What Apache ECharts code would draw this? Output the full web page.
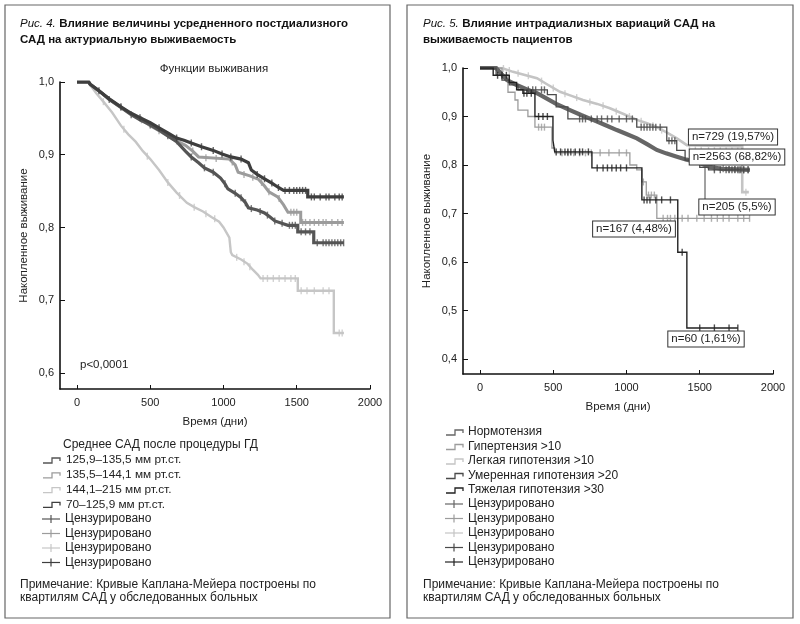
<!DOCTYPE html>
<html><head><meta charset="utf-8">
<script src="https://cdn.jsdelivr.net/npm/echarts@6/dist/echarts.min.js"></script>
<style>html,body{margin:0;padding:0;background:#fff}#c{width:800px;height:624px}</style>
</head><body><div id="c"></div>
<script>
// ---------- DATA: left panel (Рис. 4) ----------
var leftNames = ['125,9–135,5 мм рт.ст.', '135,5–144,1 мм рт.ст.', '144,1–215 мм рт.ст.', '70–125,9 мм рт.ст.'];
// survival curves as [time, survival] vertices (vertical drops listed as two vertices at the same time)
var L125 = [[0,1],[80,1],[90,0.997],[150,0.988],[220,0.976],[300,0.965],[370,0.955],[430,0.948],[500,0.941],[560,0.934],[620,0.926],[680,0.918],[740,0.905],[780,0.897],[830,0.889],[870,0.882],[930,0.876],[980,0.868],[1010,0.860],[1030,0.853],[1080,0.847],[1120,0.841],[1150,0.834],[1170,0.827],[1230,0.824],[1280,0.820],[1320,0.814],[1350,0.809],[1440,0.803],[1507,0.803],[1507,0.794],[1616,0.794],[1616,0.779],[1822,0.779]];
var L135 = [[0,1],[80,1],[90,0.996],[160,0.986],[230,0.975],[300,0.965],[380,0.955],[440,0.948],[500,0.940],[560,0.933],[620,0.926],[680,0.919],[740,0.913],[790,0.905],[830,0.897],[1040,0.894],[1080,0.886],[1100,0.876],[1180,0.871],[1240,0.866],[1280,0.857],[1310,0.849],[1370,0.842],[1410,0.831],[1440,0.821],[1527,0.821],[1527,0.807],[1822,0.807]];
var L144 = [[0,1],[80,1],[90,0.996],[130,0.985],[180,0.973],[240,0.958],[300,0.940],[350,0.928],[400,0.918],[450,0.905],[500,0.894],[560,0.879],[620,0.862],[680,0.848],[750,0.834],[800,0.828],[860,0.822],[920,0.814],[970,0.808],[1000,0.800],[1040,0.786],[1050,0.766],[1060,0.762],[1120,0.756],[1165,0.750],[1200,0.742],[1235,0.735],[1253,0.730],[1507,0.730],[1507,0.713],[1753,0.713],[1753,0.655],[1822,0.655]];
var L70 = [[0,1],[80,1],[90,0.997],[150,0.988],[220,0.977],[300,0.966],[370,0.957],[430,0.951],[500,0.944],[560,0.937],[620,0.930],[680,0.923],[730,0.920],[780,0.916],[850,0.911],[930,0.906],[990,0.901],[1050,0.897],[1120,0.894],[1170,0.889],[1190,0.879],[1230,0.873],[1280,0.867],[1330,0.861],[1375,0.855],[1410,0.851],[1575,0.851],[1575,0.842],[1822,0.842]];
// censored observations
var C125 = [[220,0.976],[370,0.955],[500,0.941],[620,0.926],[780,0.897],[870,0.882],[930,0.876],[1010,0.860],[1080,0.847],[1120,0.841],[1150,0.834],[1190,0.826],[1250,0.822],[1300,0.817],[1350,0.809],[1400,0.806],[1450,0.803],[1470,0.803],[1490,0.803],[1530,0.794],[1560,0.794],[1590,0.794],[1640,0.779],[1680,0.779],[1700,0.779],[1720,0.779],[1740,0.779],[1760,0.779],[1780,0.779],[1800,0.779],[1820,0.779]];
var C135 = [[300,0.965],[440,0.948],[560,0.933],[680,0.919],[790,0.905],[880,0.896],[950,0.895],[1060,0.890],[1140,0.873],[1200,0.869],[1260,0.862],[1310,0.849],[1380,0.840],[1460,0.821],[1480,0.821],[1500,0.821],[1540,0.807],[1560,0.807],[1590,0.807],[1620,0.807],[1650,0.807],[1680,0.807],[1700,0.807],[1740,0.807],[1780,0.807],[1810,0.807]];
var C144 = [[180,0.973],[320,0.935],[480,0.898],[620,0.862],[700,0.844],[800,0.828],[880,0.819],[940,0.812],[1090,0.759],[1140,0.753],[1180,0.746],[1270,0.730],[1300,0.730],[1340,0.730],[1380,0.730],[1420,0.730],[1460,0.730],[1490,0.730],[1530,0.713],[1570,0.713],[1620,0.713],[1680,0.713],[1720,0.713],[1790,0.655],[1810,0.655]];
var C70 = [[150,0.988],[300,0.966],[430,0.951],[560,0.937],[680,0.923],[780,0.916],[850,0.911],[930,0.906],[990,0.901],[1050,0.897],[1120,0.894],[1230,0.873],[1280,0.867],[1330,0.861],[1375,0.855],[1420,0.851],[1450,0.851],[1480,0.851],[1500,0.851],[1520,0.851],[1540,0.851],[1560,0.851],[1600,0.842],[1620,0.842],[1660,0.842],[1700,0.842],[1720,0.842],[1760,0.842],[1790,0.842],[1810,0.842]];

// ---------- DATA: right panel (Рис. 5) ----------
var rightNames = ['Нормотензия', 'Гипертензия >10', 'Легкая гипотензия >10', 'Умеренная гипотензия >20', 'Тяжелая гипотензия >30'];
var RNorm = [[0,1],[110,1],[140,0.990],[184,0.975],[250,0.965],[320,0.956],[389,0.948],[450,0.938],[520,0.926],[614,0.913],[690,0.903],[771,0.893],[850,0.883],[934,0.872],[1000,0.864],[1071,0.855],[1140,0.843],[1207,0.831],[1270,0.824],[1344,0.817],[1410,0.811],[1480,0.806],[1569,0.796],[1650,0.792],[1842,0.790]];
var RLight = [[0,1],[150,1],[225,0.992],[300,0.986],[389,0.979],[460,0.966],[546,0.951],[620,0.943],[703,0.934],[800,0.926],[887,0.917],[980,0.905],[1071,0.893],[1140,0.886],[1207,0.878],[1280,0.866],[1344,0.855],[1412,0.841],[1790,0.838],[1790,0.744],[1835,0.744]];
var RHyper = [[0,1],[150,1],[150,0.985],[191,0.985],[191,0.950],[239,0.950],[239,0.934],[259,0.934],[259,0.913],[327,0.913],[327,0.900],[375,0.900],[375,0.878],[491,0.878],[491,0.835],[510,0.835],[510,0.825],[1023,0.825],[1023,0.800],[1070,0.800],[1070,0.790],[1105,0.790],[1105,0.765],[1135,0.765],[1135,0.738],[1207,0.738],[1207,0.690],[1842,0.690]];
var RMod = [[0,1],[110,1],[110,0.985],[150,0.985],[150,0.975],[200,0.975],[200,0.965],[260,0.965],[260,0.955],[460,0.955],[460,0.945],[520,0.945],[520,0.920],[600,0.920],[600,0.895],[1070,0.895],[1070,0.878],[1275,0.878],[1275,0.850],[1343,0.850],[1343,0.830],[1400,0.830],[1400,0.810],[1500,0.810],[1500,0.795],[1560,0.795],[1560,0.790],[1842,0.790]];
var RSev = [[0,1],[90,1],[90,0.985],[200,0.985],[200,0.970],[250,0.970],[250,0.955],[293,0.955],[293,0.948],[375,0.948],[375,0.900],[498,0.900],[498,0.851],[510,0.851],[510,0.827],[764,0.827],[764,0.794],[1105,0.794],[1105,0.728],[1350,0.728],[1350,0.620],[1412,0.620],[1412,0.464],[1760,0.464]];
var CNorm = [[1600,0.794],[1660,0.792],[1700,0.791],[1740,0.791],[1770,0.790],[1800,0.790],[1830,0.790]];
var CHyper = [[400,0.878],[420,0.878],[440,0.878],[560,0.825],[600,0.825],[640,0.825],[680,0.825],[720,0.825],[760,0.825],[820,0.825],[880,0.825],[950,0.825],[1000,0.825],[1115,0.765],[1150,0.738],[1170,0.738],[1190,0.738],[1250,0.690],[1280,0.690],[1300,0.690],[1330,0.690],[1380,0.690],[1420,0.690],[1480,0.690],[1530,0.690],[1580,0.690],[1620,0.690],[1660,0.690],[1700,0.690],[1760,0.690],[1800,0.690],[1840,0.690]];
var CLight = [[160,0.999],[200,0.995],[260,0.989],[330,0.984],[420,0.973],[500,0.959],[580,0.947],[660,0.939],[750,0.930],[840,0.922],[930,0.911],[1020,0.900],[1100,0.890],[1180,0.881],[1240,0.872],[1430,0.841],[1470,0.840],[1510,0.840],[1560,0.840],[1600,0.840],[1640,0.839],[1680,0.839],[1720,0.839],[1760,0.838],[1815,0.744]];
var CMod = [[330,0.955],[360,0.955],[380,0.955],[420,0.955],[440,0.955],[680,0.895],[700,0.895],[720,0.895],[760,0.895],[800,0.895],[830,0.895],[870,0.895],[900,0.895],[950,0.895],[1000,0.895],[1040,0.895],[1100,0.878],[1120,0.878],[1140,0.878],[1160,0.878],[1180,0.878],[1200,0.878],[1230,0.878],[1290,0.850],[1310,0.850],[1330,0.850],[1600,0.790],[1640,0.790],[1680,0.790],[1700,0.790],[1720,0.790],[1740,0.790],[1760,0.790],[1780,0.790],[1800,0.790],[1830,0.790]];
var CSev = [[120,0.985],[150,0.985],[180,0.985],[300,0.948],[320,0.948],[350,0.948],[400,0.900],[430,0.900],[460,0.900],[520,0.827],[550,0.827],[580,0.827],[600,0.827],[620,0.827],[650,0.827],[680,0.827],[700,0.827],[740,0.827],[800,0.794],[840,0.794],[870,0.794],[900,0.794],[930,0.794],[960,0.794],[1000,0.794],[1120,0.728],[1140,0.728],[1160,0.728],[1200,0.728],[1240,0.728],[1300,0.728],[1380,0.620],[1500,0.464],[1600,0.464],[1700,0.464],[1760,0.464]];

var xTicks = [0, 500, 1000, 1500, 2000];
var yTicksL = [0.6, 0.7, 0.8, 0.9, 1.0];
var yTicksR = [0.4, 0.5, 0.6, 0.7, 0.8, 0.9, 1.0];
var nLabels = ['n=729 (19,57%)', 'n=2563 (68,82%)', 'n=205 (5,5%)', 'n=167 (4,48%)', 'n=60 (1,61%)'];

// ---------- styling ----------
var FONT = 'Liberation Sans, Arial, sans-serif';
var TXT = '#222';
var leftColors = ['#555555', '#9c9c9c', '#c6c6c6', '#3e3e3e'];
var rightColors = ['#666666', '#9c9c9c', '#c4c4c4', '#4a4a4a', '#222222'];

function fmtY(v){ return v.toFixed(1).replace('.', ','); }
function fmtX(v){ return String(Math.round(v)); }

function axisX(gi){
  return {gridIndex: gi, type: 'value', min: -116, max: 2000,
    name: 'Время (дни)', nameLocation: 'middle', nameGap: 27,
    nameTextStyle: {fontFamily: FONT, fontSize: 11.5, color: TXT},
    axisLine: {show: true, onZero: false, lineStyle: {color: '#111', width: 1.6}},
    axisTick: {show: true, inside: true, length: 4, customValues: xTicks, lineStyle: {color: '#111', width: 1}},
    axisLabel: {customValues: xTicks, formatter: fmtX, fontFamily: FONT, fontSize: 11, color: TXT, margin: 8},
    splitLine: {show: false}};
}
function axisY(gi, mn, ticks){
  return {gridIndex: gi, type: 'value', min: mn, max: 1.0,
    name: 'Накопленное выживание', nameLocation: 'middle', nameGap: 30,
    nameTextStyle: {fontFamily: FONT, fontSize: 11.5, color: TXT},
    axisLine: {show: true, onZero: false, lineStyle: {color: '#111', width: 1.6}},
    axisTick: {show: true, inside: true, length: 5, customValues: ticks, lineStyle: {color: '#111', width: 1}},
    axisLabel: {customValues: ticks, formatter: fmtY, fontFamily: FONT, fontSize: 11, color: TXT, margin: 6},
    splitLine: {show: false}};
}

var series = [];
function addCurve(gi, name, data, cens, color, lw, z){
  series.push({type: 'line', name: name, xAxisIndex: gi, yAxisIndex: gi, data: data,
    showSymbol: false, symbol: 'none', lineStyle: {color: color, width: lw, join: 'miter'}, z: z, silent: true});
  series.push({type: 'scatter', name: name + ' cens', xAxisIndex: gi, yAxisIndex: gi, data: cens,
    symbol: 'rect', symbolSize: [1.4, 7], itemStyle: {color: color}, z: z, silent: true});
}
addCurve(0, leftNames[2], L144, C144, leftColors[2], 2.4, 2);
addCurve(0, leftNames[1], L135, C135, leftColors[1], 3, 3);
addCurve(0, leftNames[0], L125, C125, leftColors[0], 3.2, 4);
addCurve(0, leftNames[3], L70, C70, leftColors[3], 3.2, 5);

addCurve(1, rightNames[2], RLight, CLight, rightColors[2], 2.6, 2);
addCurve(1, rightNames[1], RHyper, CHyper, rightColors[1], 1.3, 3);
addCurve(1, rightNames[0], RNorm, CNorm, rightColors[0], 4.2, 4);
addCurve(1, rightNames[3], RMod, CMod, rightColors[3], 1.3, 5);
addCurve(1, rightNames[4], RSev, CSev, rightColors[4], 1.4, 6);

// ---------- graphic (frames, titles, legends, notes) ----------
var g = [];
function txt(x, y, s, opt){
  opt = opt || {};
  g.push({type: 'text', x: x, y: y, z: 100, style: {text: s, fill: TXT, font: (opt.size || 11.5) + 'px ' + FONT,
    textAlign: opt.align || 'left', textVerticalAlign: 'middle'}});
}
g.push({type: 'rect', shape: {x: 5, y: 5, width: 385, height: 613}, style: {fill: 'none', stroke: '#666', lineWidth: 1.2}, z: 1});
g.push({type: 'rect', shape: {x: 407, y: 5, width: 386, height: 613}, style: {fill: 'none', stroke: '#666', lineWidth: 1.2}, z: 1});

function title(x, y, it, b1, b2){
  g.push({type: 'text', x: x, y: y, z: 100, style: {
    text: '{i|' + it + '} {b|' + b1 + '}\n{b|' + b2 + '}',
    rich: {i: {fontFamily: FONT, fontSize: 11.5, fontStyle: 'italic', fill: '#111', lineHeight: 16},
           b: {fontFamily: FONT, fontSize: 11.5, fontWeight: 'bold', fill: '#111', lineHeight: 16}},
    textVerticalAlign: 'top'}});
}
title(20, 16, 'Рис. 4.', 'Влияние величины усредненного постдиализного', 'САД на актуриальную выживаемость');
title(423, 16, 'Рис. 5.', 'Влияние интрадиализных вариаций САД на', 'выживаемость пациентов');

txt(214, 69, 'Функции выживания', {align: 'center', size: 11.5});
txt(80, 365, 'p<0,0001', {size: 11.5});

// legend icons
function stepIcon(x, y, color){
  g.push({type: 'polyline', z: 100, shape: {points: [[x, y + 3], [x + 9, y + 3], [x + 9, y - 2], [x + 17, y - 2], [x + 17, y + 1]]},
    style: {stroke: color, lineWidth: 1.3, fill: 'none'}});
}
function censIcon(x, y, color){
  g.push({type: 'line', z: 100, shape: {x1: x, y1: y, x2: x + 18, y2: y}, style: {stroke: color, lineWidth: 1.2}});
  g.push({type: 'line', z: 100, shape: {x1: x + 9, y1: y - 4, x2: x + 9, y2: y + 4}, style: {stroke: color, lineWidth: 1.2}});
}
// left legend
txt(63, 445, 'Среднее САД после процедуры ГД', {size: 12});
[0, 1, 2, 3].forEach(function(k, i){
  var y = 460 + i * 14.8;
  stepIcon(43, y, leftColors[k]);
  txt(66, y, leftNames[k], {size: 11.8});
});
[0, 1, 2, 3].forEach(function(k, i){
  var y = 519 + i * 14.5;
  censIcon(42, y, leftColors[k]);
  txt(65, y, 'Цензурировано', {size: 12});
});
txt(20, 585, 'Примечание: Кривые Каплана-Мейера построены по', {size: 12});
txt(20, 598, 'квартилям САД у обследованных больных', {size: 12});

// right legend
rightNames.forEach(function(nm, i){
  var y = 432 + i * 14.5;
  stepIcon(446, y, rightColors[i]);
  txt(468, y, nm, {size: 12});
});
rightNames.forEach(function(nm, i){
  var y = 504 + i * 14.5;
  censIcon(445, y, rightColors[i]);
  txt(468, y, 'Цензурировано', {size: 12});
});
txt(423, 585, 'Примечание: Кривые Каплана-Мейера построены по', {size: 12});
txt(423, 598, 'квартилям САД у обследованных больных', {size: 12});

// annotation boxes (right panel)
g.push({type: 'line', z: 99, shape: {x1: 705, y1: 167, x2: 705, y2: 200}, style: {stroke: '#444', lineWidth: 1}});
var boxPos = [[733, 137], [737, 157], [737, 207], [634, 229], [706, 339]];
nLabels.forEach(function(s, i){
  g.push({type: 'text', x: boxPos[i][0], y: boxPos[i][1], z: 101, style: {text: s, fill: TXT, font: '11.5px ' + FONT,
    textAlign: 'center', textVerticalAlign: 'middle', backgroundColor: '#fff', borderColor: '#333', borderWidth: 1, padding: [2, 3, 1, 3]}});
});

var chart = echarts.init(document.getElementById('c'));
chart.setOption({
  animation: false,
  backgroundColor: '#fff',
  grid: [{left: 60, right: 430, top: 82, bottom: 235, containLabel: false},
         {left: 463, right: 27, top: 68, bottom: 250, containLabel: false}],
  xAxis: [axisX(0), axisX(1)],
  yAxis: [axisY(0, 0.578, yTicksL), axisY(1, 0.369, yTicksR)],
  series: series,
  graphic: g
});
</script></body></html>
